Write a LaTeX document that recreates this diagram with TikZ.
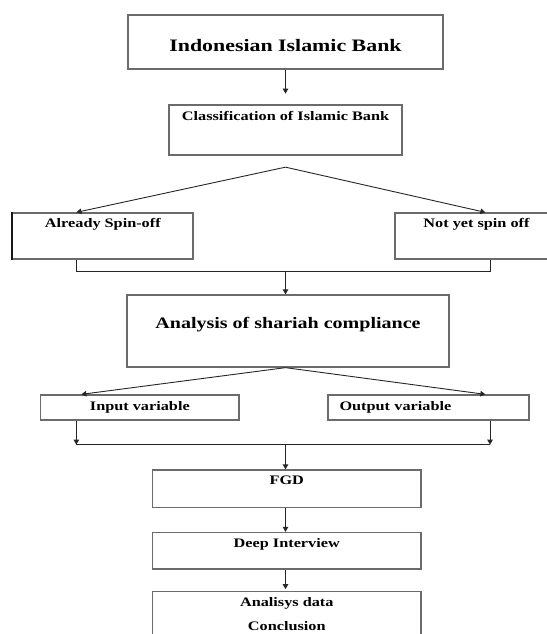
\documentclass[tikz,border=0pt]{standalone}
\usepackage{fontspec}
\setmainfont{Liberation Serif}
\newfontfamily\boxfont[FakeStretch=1.25]{Liberation Serif}
\usetikzlibrary{arrows.meta}
\usetikzlibrary{calc}

\tikzset{
  box/.style={draw=black!58, line width=1.3pt, inner sep=0pt, font=\boxfont\bfseries\fontsize{13}{15}\selectfont},
  link/.style={draw=black!85, line width=0.9pt},
  arr/.style={link, -{Triangle[length=5pt,width=5.5pt]}}
}

\begin{document}
\begin{tikzpicture}[x=1pt,y=-1pt]
\useasboundingbox (0,0) rectangle (546,634);

% boxes
\node[box, minimum width=315pt, text height=36.3pt, text depth=17.7pt, font=\boxfont\bfseries\fontsize{17.5}{20}\selectfont] (bank) at (285.5,42) {Indonesian Islamic Bank};
\node[box, minimum width=233pt, text height=15.3pt, text depth=34.7pt] (classify) at (285.5,130) {Classification of Islamic Bank};
\node[box, minimum width=180.3pt, text height=14.3pt, text depth=31.7pt] (spun) at (102.85,236) {Already Spin-off};
\node[box, minimum width=163pt, text height=14.3pt, text depth=31.7pt] (notyet) at (476.5,236) {Not yet spin off};
\node[box, minimum width=322pt, text height=33.3pt, text depth=38.7pt, font=\boxfont\bfseries\fontsize{16}{18}\selectfont] (sharia) at (288,331) {Analysis of shariah compliance};
\node[box, minimum width=198.3pt, text height=15.3pt, text depth=9.7pt] (input) at (139.85,407.5) {Input variable};
\node[box, text width=178pt, inner xsep=11.5pt, align=left, text height=15.3pt, text depth=9.7pt] (output) at (428.5,407.5) {Output variable};
\node[box, minimum width=268.5pt, text height=14.8pt, text depth=22.7pt] (fgd) at (286.75,488.75) {FGD};
\node[box, minimum width=268.5pt, text height=15.3pt, text depth=21.2pt] (deep) at (286.75,550.75) {Deep Interview};
\node[box, minimum width=268.5pt, text height=14.8pt, text depth=38.7pt] (result) at (286.75,618.25) {\begin{tabular}[t]{@{}c@{}}Analisys data\\[9.5pt]Conclusion\end{tabular}};
\draw[black!90, line width=1.3pt] (spun.north west) -- (spun.south west);

% connectors
\draw[arr] (bank.south) -- ++(0,24);
\coordinate (fork1) at ([yshift=-11.5pt]classify.south);
\draw[arr] (fork1) -- ([xshift=64.3pt]spun.north west);
\draw[arr] (fork1) -- ([xshift=91pt]notyet.north west);
\draw[link] ([xshift=64.3pt]spun.south west) -- ++(0,11.7) coordinate (join1) -| ([xshift=96pt]notyet.south west);
\draw[arr] (join1 -| bank.south) -- (sharia.north -| bank.south);

\coordinate (fork2) at (sharia.south -| bank.south);
\draw[arr] (fork2) -- ([xshift=41.3pt]input.north west);
\draw[arr] (fork2) -- ([xshift=158pt]output.north west);
\draw[arr] ([xshift=36.3pt]input.south west) -- ++(0,24) coordinate (join2);
\draw[arr] ([xshift=162.7pt]output.south west) -- ++(0,24) coordinate (join3);
\draw[link] (join2) -- (join3);
\draw[arr] (join2 -| bank.south) -- (fgd.north -| bank.south);
\draw[arr] (fgd.south -| bank.south) -- (deep.north -| bank.south);
\draw[arr] (deep.south -| bank.south) -- ++(0,19.5);
\end{tikzpicture}
\end{document}
